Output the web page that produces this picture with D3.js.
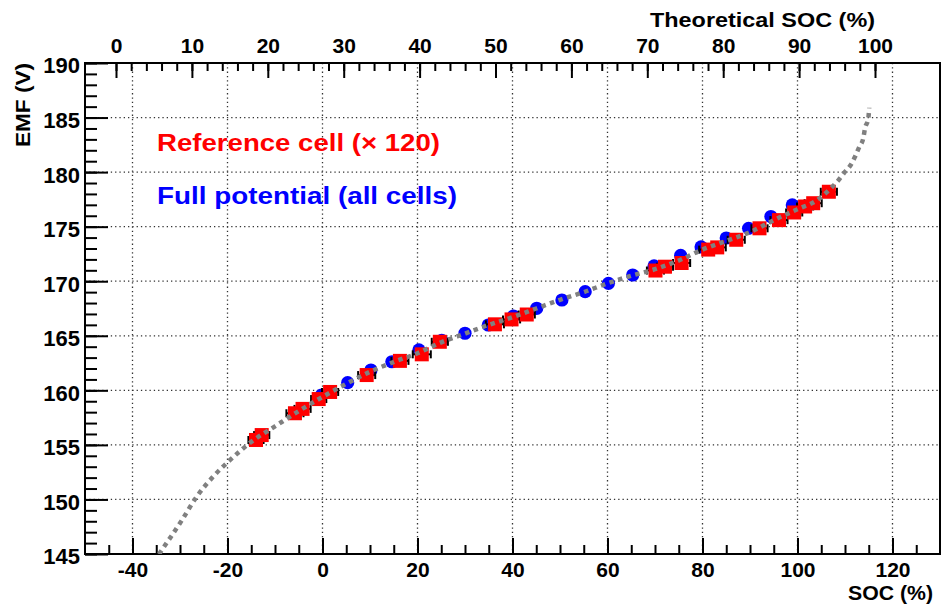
<!DOCTYPE html>
<html>
<head>
<meta charset="utf-8">
<script src="https://cdn.jsdelivr.net/npm/d3@7"></script>
<style>
  body { margin: 0; background: #fff; }
  svg { display: block; }
  text { font-family: "Liberation Sans", Arial, Helvetica, sans-serif; font-weight: bold; }
</style>
</head>
<body>
<svg id="chart" width="941" height="604"></svg>
<script>
// Reference cell (x 120) - red squares with horizontal errors
const refSoc = [-14.0, -12.8, -5.8, -4.2, -0.8, 1.6, 9.3, 16.3, 20.9, 24.7, 36.3, 39.8, 43.0,
                70.1, 72.1, 75.6, 81.2, 83.1, 87.1, 92.0, 96.1, 99.3, 101.6, 103.3, 106.6];
const refEmf = [155.45, 155.9, 157.9, 158.3, 159.2, 159.85, 161.4, 162.7, 163.3, 164.45, 166.05, 166.5, 166.95,
                170.98, 171.33, 171.67, 172.9, 173.1, 173.8, 174.85, 175.6, 176.3, 176.85, 177.15, 178.2];
const refErr = [1.6, 1.6, 1.8, 1.7, 1.6, 1.7, 1.8, 1.8, 1.9, 1.7, 1.9, 1.8, 1.7,
                1.8, 1.7, 1.8, 1.9, 1.8, 1.8, 1.7, 1.8, 1.7, 1.7, 1.8, 1.7];

// Full potential (all cells) - blue circles
const fullSoc = [-0.2, 5.3, 10.2, 14.6, 20.3, 25.1, 30.0, 34.9, 40.2, 45.1, 50.4,
                 55.3, 60.2, 65.3, 69.8, 75.4, 79.7, 85.0, 89.7, 94.4, 98.9];
const fullEmf = [159.57, 160.7, 161.86, 162.62, 163.7, 164.57, 165.23, 165.99, 166.81, 167.52, 168.28,
                 169.04, 169.81, 170.57, 171.4, 172.36, 173.14, 173.96, 174.85, 175.93, 176.99];

// EMF model curve (gray dotted)
const curveSoc = [-35.5, -34.4, -29.6, -26.5, -23.0, -19.5, -14.6, -10, -5, 0, 5, 10, 15, 20, 25, 30, 35,
                  40, 45, 50, 55, 60, 65, 70, 75, 80, 85, 90, 95, 100, 104, 107.2, 108.7, 109.85,
                  111.2, 112.1, 113.0, 113.85, 114.2, 114.9, 115.1];
const curveEmf = [144.3, 145.0, 148.1, 150.25, 152.1, 153.6, 155.4, 156.7, 158.1, 159.4, 160.6, 161.7, 162.6,
                  163.4, 164.4, 165.2, 166.0, 166.7, 167.5, 168.3, 169.0, 169.8, 170.5, 171.1, 171.9,
                  172.9, 173.7, 174.5, 175.6, 176.6, 177.4, 178.6, 179.3, 179.95, 180.65, 181.4,
                  182.3, 183.1, 184.0, 184.9, 185.9];

const socTicks = [-40, -20, 0, 20, 40, 60, 80, 100, 120];
const socMinor = d3.range(-45, 130, 5);
const emfTicks = [145, 150, 155, 160, 165, 170, 175, 180, 185, 190];
const emfMinor = d3.range(145, 191, 1);
const theoTicks = [0, 10, 20, 30, 40, 50, 60, 70, 80, 90, 100];
const theoMinor = d3.range(0, 101, 2);

const svg = d3.select("#chart");
const pL = 85, pR = 940, pT = 63, pB = 554;

const x = d3.scaleLinear().domain([-50, 130]).range([pL, pR]);
const y = d3.scaleLinear().domain([145, 190]).range([pB, pT]);
const xTop = d3.scaleLinear().domain([0, 100]).range([116, 875]);

svg.append("rect").attr("width", 941).attr("height", 604).attr("fill", "#fff");

svg.append("clipPath").attr("id", "plot")
  .append("rect").attr("x", pL).attr("y", pT).attr("width", pR - pL).attr("height", pB - pT);

// grid
const grid = svg.append("g").attr("stroke", "#333").attr("stroke-width", 1.3).attr("stroke-dasharray", "1.3,3");
grid.selectAll(".gx").data(socTicks).enter().append("line")
  .attr("x1", d => x(d)).attr("x2", d => x(d)).attr("y1", pT).attr("y2", pB);
grid.selectAll(".gy").data(emfTicks.slice(1, -1)).enter().append("line")
  .attr("y1", d => y(d)).attr("y2", d => y(d)).attr("x1", pL).attr("x2", pR);

// axes
function styleAxis(g) {
  g.select(".domain").remove();
  g.selectAll("line").attr("stroke", "#000").attr("stroke-width", 2);
  g.selectAll("text").attr("fill", "#000");
  g.attr("font-family", null);
}

svg.append("g").attr("transform", `translate(0,${pB})`)
  .call(d3.axisBottom(x).tickValues(socMinor).tickSizeInner(-9).tickSizeOuter(0).tickFormat(""))
  .call(styleAxis);
svg.append("g").attr("transform", `translate(0,${pB})`)
  .call(d3.axisBottom(x).tickValues(socTicks).tickSizeInner(-16).tickSizeOuter(0).tickFormat(d => String(d)))
  .call(styleAxis)
  .selectAll("text").attr("font-size", 21).attr("y", 23).attr("dy", null);

svg.append("g").attr("transform", `translate(${pL},0)`)
  .call(d3.axisLeft(y).tickValues(emfMinor).tickSizeInner(-12).tickSizeOuter(0).tickFormat(""))
  .call(styleAxis);
svg.append("g").attr("transform", `translate(${pL},0)`)
  .call(d3.axisLeft(y).tickValues(emfTicks).tickSizeInner(-23).tickSizeOuter(0).tickFormat(d => String(d)))
  .call(styleAxis)
  .selectAll("text").attr("font-size", 22).attr("x", -5).attr("dy", "0.45em");

svg.append("g").attr("transform", `translate(0,${pT})`)
  .call(d3.axisTop(xTop).tickValues(theoMinor).tickSizeInner(-8).tickSizeOuter(0).tickFormat(""))
  .call(styleAxis);
svg.append("g").attr("transform", `translate(0,${pT})`)
  .call(d3.axisTop(xTop).tickValues(theoTicks).tickSizeInner(-15).tickSizeOuter(0).tickFormat(d => String(d)))
  .call(styleAxis)
  .selectAll("text").attr("font-size", 21).attr("y", -10).attr("dy", null);

// frame
svg.append("rect").attr("x", pL).attr("y", pT).attr("width", pR - pL).attr("height", pB - pT)
  .attr("fill", "none").attr("stroke", "#000").attr("stroke-width", 2);

// data
const plot = svg.append("g").attr("clip-path", "url(#plot)");

const full = fullSoc.map((s, i) => ({ soc: s, emf: fullEmf[i] }));
plot.selectAll(".full").data(full).enter().append("circle")
  .attr("cx", d => x(d.soc)).attr("cy", d => y(d.emf)).attr("r", 6.6)
  .attr("fill", "#0000ff");

const ref = refSoc.map((s, i) => ({ soc: s, emf: refEmf[i], err: refErr[i] }));
const eb = plot.append("g").attr("stroke", "#000").attr("stroke-width", 2);
ref.forEach(d => {
  const x0 = x(d.soc - d.err), x1 = x(d.soc + d.err), yy = y(d.emf);
  eb.append("line").attr("x1", x0).attr("x2", x1).attr("y1", yy).attr("y2", yy);
  eb.append("line").attr("x1", x0).attr("x2", x0).attr("y1", yy - 4).attr("y2", yy + 4);
  eb.append("line").attr("x1", x1).attr("x2", x1).attr("y1", yy - 4).attr("y2", yy + 4);
});
plot.selectAll(".ref").data(ref).enter().append("rect")
  .attr("x", d => x(d.soc) - 7).attr("y", d => y(d.emf) - 7)
  .attr("width", 14).attr("height", 14).attr("fill", "#ff0000");

const curve = curveSoc.map((s, i) => ({ soc: s, emf: curveEmf[i] }));
const line = d3.line().x(d => x(d.soc)).y(d => y(d.emf)).curve(d3.curveMonotoneX);
plot.append("path").datum(curve).attr("d", line)
  .attr("fill", "none").attr("stroke", "#808080").attr("stroke-width", 4.5).attr("stroke-dasharray", "4.5,4.5");

// titles and legend
svg.append("text").attr("x", 650).attr("y", 27).attr("font-size", 20)
  .attr("textLength", 225).attr("lengthAdjust", "spacingAndGlyphs").text("Theoretical SOC (%)");
svg.append("text").attr("x", 848).attr("y", 600).attr("font-size", 21)
  .attr("textLength", 85).attr("lengthAdjust", "spacingAndGlyphs").text("SOC (%)");
svg.append("text").attr("transform", "translate(30,63) rotate(-90)").attr("text-anchor", "end")
  .attr("font-size", 21).attr("textLength", 84).attr("lengthAdjust", "spacingAndGlyphs").text("EMF (V)");

svg.append("text").attr("x", 157).attr("y", 151).attr("font-size", 24).attr("fill", "#ff0000")
  .attr("textLength", 283).attr("lengthAdjust", "spacingAndGlyphs").text("Reference cell (\u00d7 120)");
svg.append("text").attr("x", 157).attr("y", 204).attr("font-size", 24).attr("fill", "#0000ff")
  .attr("textLength", 300).attr("lengthAdjust", "spacingAndGlyphs").text("Full potential (all cells)");
</script>
</body>
</html>
